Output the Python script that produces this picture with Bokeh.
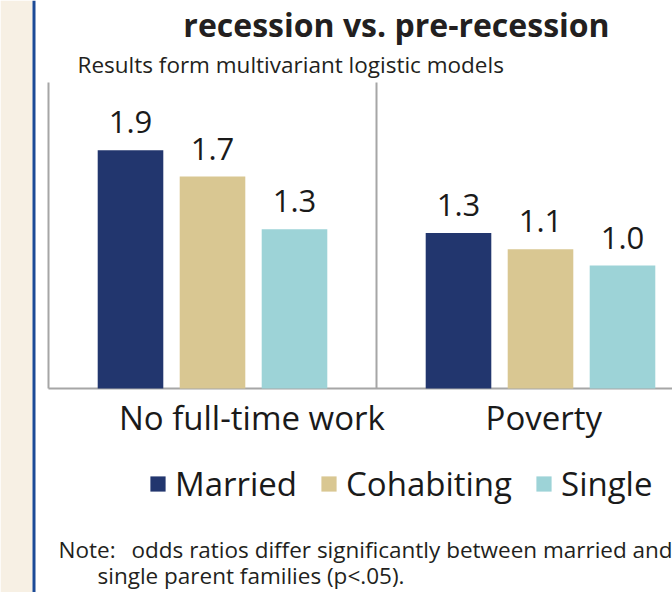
import numpy as np
from bokeh.plotting import figure
from bokeh.models import Range1d, Legend, LegendItem, Label, BoxAnnotation
from bokeh.embed import file_html
from bokeh.resources import INLINE
from bokeh.core.properties import value

# ---------------- data ----------------
categories = ["No full-time work", "Poverty"]
series = ["Married", "Cohabiting", "Single"]
married = [1.90, 1.24]
cohabiting = [1.69, 1.11]
single = [1.27, 0.98]
married_labels = ["1.9", "1.3"]
cohabiting_labels = ["1.7", "1.1"]
single_labels = ["1.3", "1.0"]
colors = ["#22366e", "#d9c792", "#9dd3d7"]

title_text = "recession vs. pre-recession"
subtitle_text = "Results form multivariant logistic models"
note_head = "Note:"
note_lines = ["odds ratios differ significantly between married and",
              "single parent families (p<.05)."]

FONT = "Open Sans"
TXT = "#1a1a1a"
GRAY = "#a6a6a6"

W, H = 672, 592
X0 = 48          # px from canvas left where the first group starts
GROUP_PX = 328   # px per category group
BASE = 204       # px from canvas bottom to the value axis baseline
PX_PER_UNIT = 125.4
PLOT_TOP = 306   # px of plotting area above the baseline

p = figure(width=W, height=H, output_backend="svg", toolbar_location=None,
           x_range=Range1d(-X0 / GROUP_PX, (W - X0) / GROUP_PX),
           y_range=Range1d(-BASE / PX_PER_UNIT, (H - BASE) / PX_PER_UNIT),
           min_border=0, x_axis_location=None, y_axis_location=None,
           outline_line_color=None, title=None)
p.xgrid.visible = False
p.ygrid.visible = False
p.background_fill_color = "white"
p.border_fill_color = "white"

# left decorative strip
p.add_layout(BoxAnnotation(left=0, right=32, left_units="screen", right_units="screen",
                           fill_color="#f7f0e4", fill_alpha=1, line_color=None, level="underlay"))
p.add_layout(BoxAnnotation(left=32, right=35, left_units="screen", right_units="screen",
                           fill_color="#1c4a96", fill_alpha=1, line_color=None, level="underlay"))

# frame lines: left axis, bottom axis, group separator
ytop = PLOT_TOP / PX_PER_UNIT
xend = (W - X0) / GROUP_PX
p.segment(x0=[0, 0, 1], y0=[0, 0, 0], x1=[0, xend, 1], y1=[ytop, 0, ytop],
          line_color=GRAY, line_width=2)

values = [married, cohabiting, single]
labels = [married_labels, cohabiting_labels, single_labels]
offsets = [-0.25, 0.0, 0.25]
centers = np.arange(len(categories)) + 0.5

renderers = []
for vals, labs, off, col in zip(values, labels, offsets, colors):
    xs = centers + off
    r = p.vbar(x=xs, top=vals, bottom=0, width=0.2, fill_color=col, line_color=None)
    renderers.append(r)
    p.text(x=xs, y=vals, text=labs, text_align="center", text_baseline="middle",
           y_offset=-28, text_font=value(FONT), text_font_size="31px", text_color=TXT)

# category labels under the groups
p.text(x=[0.62, 1.51], y=[0, 0], text=categories, text_align="center",
       text_baseline="middle", y_offset=29, text_font=value(FONT),
       text_font_size="33px", text_color=TXT)

# legend
legend = Legend(items=[LegendItem(label=s, renderers=[r]) for s, r in zip(series, renderers)],
                orientation="horizontal", location=(148, 86),
                glyph_width=19, glyph_height=19, label_standoff=8, spacing=22,
                padding=0, margin=0, border_line_color=None, background_fill_alpha=0,
                label_text_font=FONT, label_text_font_size="33px", label_text_color=TXT)
p.add_layout(legend, "center")

def lab(x, y, text, size, bold=False, align="left"):
    p.add_layout(Label(x=x, y=y, x_units="screen", y_units="screen", text=text,
                       text_align=align, text_baseline="middle", text_font=FONT,
                       text_font_size=size, text_font_style="bold" if bold else "normal",
                       text_color="#231f20"))

lab(396, 568, title_text, "32px", bold=True, align="center")
lab(77, 528, subtitle_text, "22.5px")
lab(58, 43, note_head, "22.5px")
lab(131, 43, note_lines[0], "22.5px")
lab(97, 17, note_lines[1], "22.5px")

open("out.html", "w").write(file_html(p, INLINE))
